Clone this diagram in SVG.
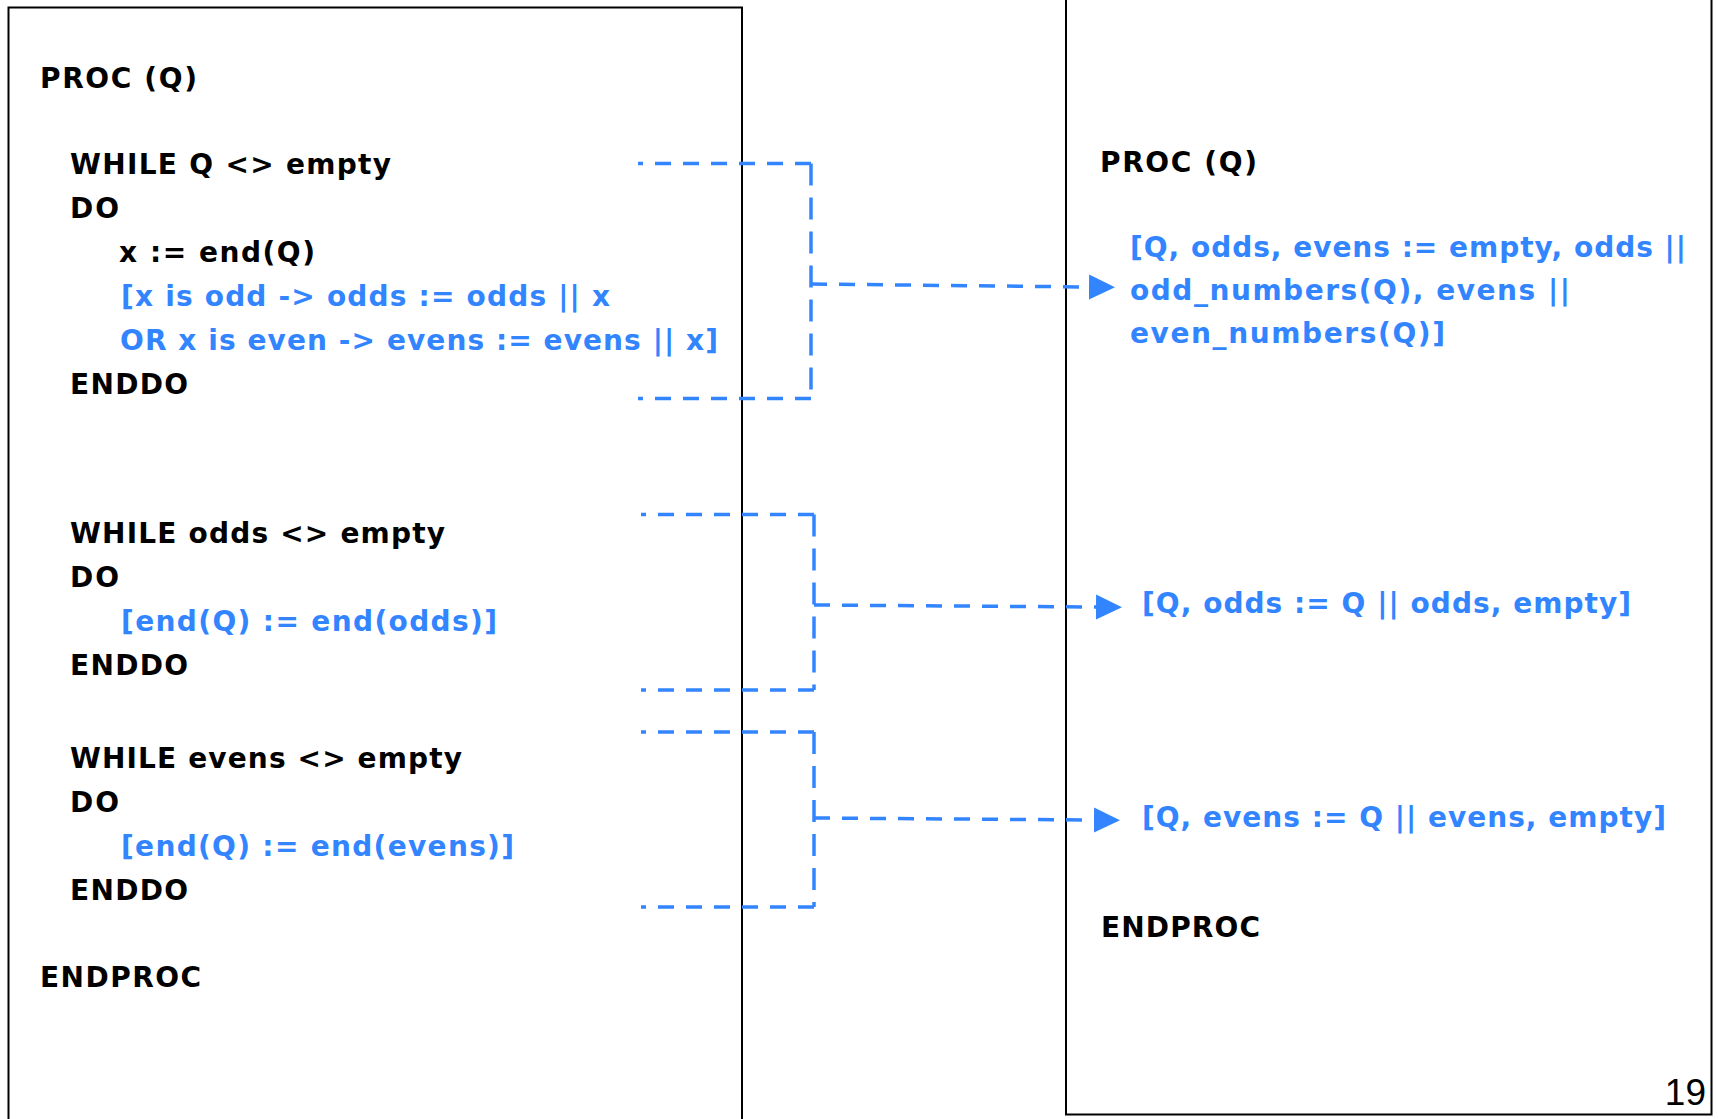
<svg xmlns="http://www.w3.org/2000/svg" width="1718" height="1119" viewBox="0 0 1718 1119">
<defs>
<style>
.box{fill:none;stroke:#000;stroke-width:2}
.k{font-family:"DejaVu Sans","Verdana",sans-serif;font-weight:bold;font-size:28px;fill:#000}
.b{font-family:"DejaVu Sans","Verdana",sans-serif;font-weight:bold;font-size:28px;fill:#3385FF}
.h{fill:none;stroke:#3385FF;stroke-width:3.5;stroke-dasharray:16 12}
.v{fill:none;stroke:#3385FF;stroke-width:3.5;stroke-dasharray:22 12}
.pg{font-family:"Liberation Sans",Arial,sans-serif;font-size:37px;fill:#000}
</style>
<marker id="ah" markerUnits="userSpaceOnUse" markerWidth="26" markerHeight="26" refX="0" refY="12.5" orient="auto" viewBox="0 0 26 25">
<path d="M0,0 L26,12.5 L0,25 Z" fill="#3385FF"/>
</marker>
</defs>
<rect width="1718" height="1119" fill="#fff"/>

<g id="left-proc">
<rect class="box" x="8.5" y="7.5" width="733.5" height="1130"/>
<text class="k" x="40" y="88" textLength="157" lengthAdjust="spacing">PROC (Q)</text>
<text class="k" x="70" y="174" textLength="321" lengthAdjust="spacing">WHILE Q &lt;&gt; empty</text>
<text class="k" x="70" y="218" textLength="49" lengthAdjust="spacing">DO</text>
<text class="k" x="119" y="262" textLength="196" lengthAdjust="spacing">x := end(Q)</text>
<text class="b" x="121" y="306" textLength="489" lengthAdjust="spacing">[x is odd -&gt; odds := odds || x</text>
<text class="b" x="120" y="350" textLength="598" lengthAdjust="spacing">OR x is even -&gt; evens := evens || x]</text>
<text class="k" x="70" y="394" textLength="118" lengthAdjust="spacing">ENDDO</text>
<text class="k" x="70" y="543" textLength="375" lengthAdjust="spacing">WHILE odds &lt;&gt; empty</text>
<text class="k" x="70" y="587" textLength="49" lengthAdjust="spacing">DO</text>
<text class="b" x="121" y="631" textLength="376" lengthAdjust="spacing">[end(Q) := end(odds)]</text>
<text class="k" x="70" y="675" textLength="118" lengthAdjust="spacing">ENDDO</text>
<text class="k" x="70" y="768" textLength="392" lengthAdjust="spacing">WHILE evens &lt;&gt; empty</text>
<text class="k" x="70" y="812" textLength="49" lengthAdjust="spacing">DO</text>
<text class="b" x="121" y="856" textLength="393" lengthAdjust="spacing">[end(Q) := end(evens)]</text>
<text class="k" x="70" y="900" textLength="118" lengthAdjust="spacing">ENDDO</text>
<text class="k" x="40" y="987" textLength="161" lengthAdjust="spacing">ENDPROC</text>
</g>

<g id="right-proc">
<rect class="box" x="1066" y="-10" width="645.5" height="1124.5"/>
<text class="k" x="1100" y="172" textLength="157" lengthAdjust="spacing">PROC (Q)</text>
<text class="b" x="1130" y="257" textLength="556" lengthAdjust="spacing">[Q, odds, evens := empty, odds ||</text>
<text class="b" x="1130" y="300" textLength="440" lengthAdjust="spacing">odd_numbers(Q), evens ||</text>
<text class="b" x="1130" y="343" textLength="315" lengthAdjust="spacing">even_numbers(Q)]</text>
<text class="b" x="1142" y="613" textLength="489" lengthAdjust="spacing">[Q, odds := Q || odds, empty]</text>
<text class="b" x="1142" y="827" textLength="524" lengthAdjust="spacing">[Q, evens := Q || evens, empty]</text>
<text class="k" x="1101" y="937" textLength="159" lengthAdjust="spacing">ENDPROC</text>
<text class="pg" x="1706" y="1105" text-anchor="end">19</text>
</g>

<g id="connectors">
<path class="h" d="M811,163.5 H638"/>
<path class="v" d="M811,163.5 V398.5"/>
<path class="h" d="M811,398.5 H638"/>
<path class="h" d="M811,284 L1089,287" marker-end="url(#ah)"/>

<path class="h" d="M814,514.5 H641"/>
<path class="v" d="M814,514.5 V690"/>
<path class="h" d="M814,690 H641"/>
<path class="h" d="M814,605 L1096,607" marker-end="url(#ah)"/>

<path class="h" d="M814,732 H641"/>
<path class="v" d="M814,732 V907"/>
<path class="h" d="M814,907 H641"/>
<path class="h" d="M814,818 L1094,820" marker-end="url(#ah)"/>
</g>
</svg>
